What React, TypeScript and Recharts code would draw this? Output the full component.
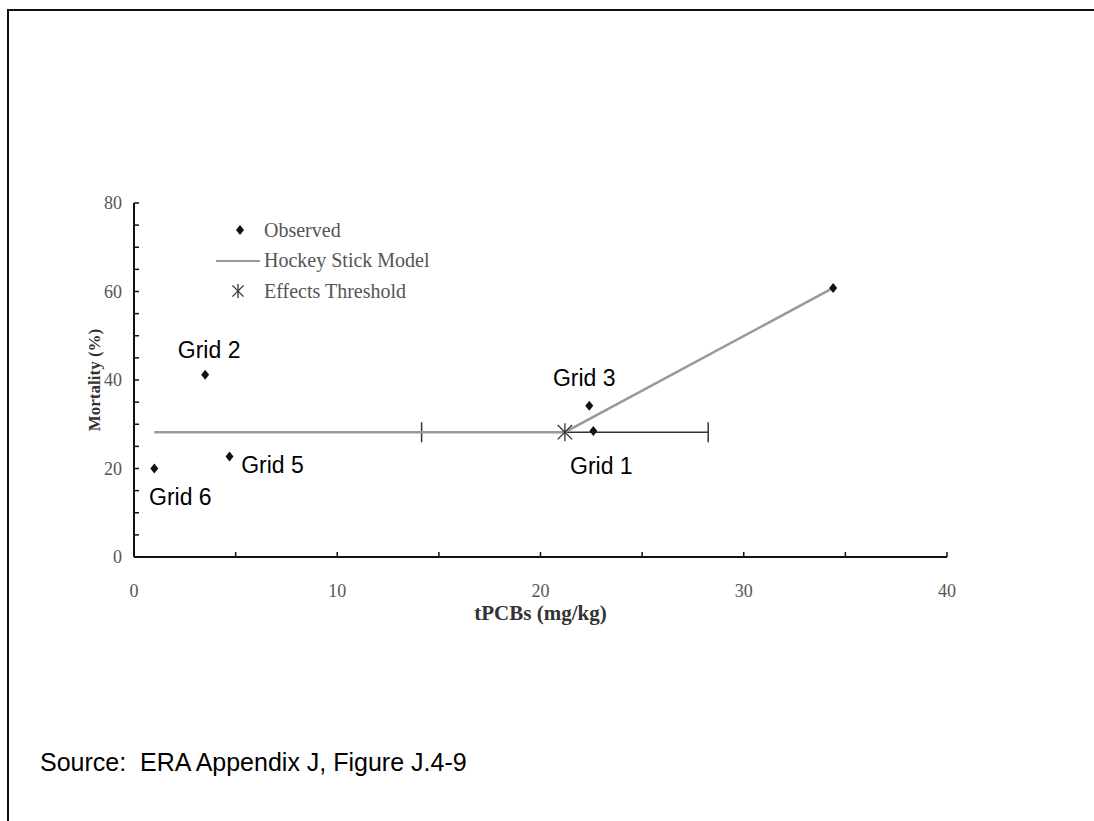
import React from 'react';
import { ScatterChart, Scatter, XAxis, YAxis, ErrorBar, Legend, Label } from 'recharts';

// observed grid data (tPCBs mg/kg vs mortality %)
const gridNames = ['Grid 6', 'Grid 2', 'Grid 5', 'Grid 3', 'Grid 1', ''];
const tpcbValues = [1.0, 3.5, 4.7, 22.4, 22.6, 34.4];
const mortalityValues = [20.0, 41.2, 22.7, 34.2, 28.5, 60.8];

// hockey stick model
const modelX = [1.0, 21.2, 34.4];
const modelY = [28.2, 28.2, 60.8];

// effects threshold with its interval
const thresholdX = [21.2];
const thresholdY = [28.2];
const thresholdCI = [7.05];

const xTicks = [0, 5, 10, 15, 20, 25, 30, 35, 40];
const yTicks = [0, 5, 10, 15, 20, 25, 30, 35, 40, 45, 50, 55, 60, 65, 70, 75, 80];
const xLabelEvery = 10;
const yLabelEvery = 20;

const legendNames = ['Observed', 'Hockey Stick Model', 'Effects Threshold'];

const observed = gridNames.map((name, i) => ({ name, x: tpcbValues[i], y: mortalityValues[i] }));
const model = modelX.map((x, i) => ({ x, y: modelY[i] }));
const threshold = thresholdX.map((x, i) => ({ x, y: thresholdY[i], ci: thresholdCI[i] }));

// where each grid label sits relative to its point
const labelOffsets: Record<string, { dx: number; dy: number }> = {
  'Grid 6': { dx: 26, dy: 28 },
  'Grid 2': { dx: 4, dy: -25 },
  'Grid 5': { dx: 43, dy: 8 },
  'Grid 3': { dx: -5, dy: -28 },
  'Grid 1': { dx: 8, dy: 35 },
};

const serif = '"Liberation Serif", "Times New Roman", serif';
const sans = '"Liberation Sans", Arial, sans-serif';
const tickColor = '#555';

const Diamond = ({ cx, cy, fill = '#111' }: any) => (
  <polygon points={`${cx},${cy - 5} ${cx + 4},${cy} ${cx},${cy + 5} ${cx - 4},${cy}`} fill={fill} />
);

const Asterisk = ({ cx, cy, r = 9, stroke = '#333' }: any) => (
  <g stroke={stroke} strokeWidth={1.3}>
    <line x1={cx} y1={cy - r} x2={cx} y2={cy + r} />
    <line x1={cx - r * 0.8} y1={cy - r * 0.8} x2={cx + r * 0.8} y2={cy + r * 0.8} />
    <line x1={cx - r * 0.8} y1={cy + r * 0.8} x2={cx + r * 0.8} y2={cy - r * 0.8} />
  </g>
);

const ObservedPoint = (props: any) => {
  const { cx, cy, payload } = props;
  const off = labelOffsets[payload.name];
  return (
    <g>
      <Diamond cx={cx} cy={cy} />
      {off && (
        <text
          x={cx + off.dx}
          y={cy + off.dy}
          textAnchor="middle"
          dominantBaseline="central"
          fontFamily={sans}
          fontSize={23}
          fill="#000"
        >
          {payload.name}
        </text>
      )}
    </g>
  );
};

const XTick = ({ x, y, payload }: any) =>
  payload.value % xLabelEvery === 0 ? (
    <text x={x} y={y} dy="0.71em" textAnchor="middle" fontFamily={serif} fontSize={18} fill={tickColor}>
      {payload.value}
    </text>
  ) : null;

const YTick = ({ x, y, payload }: any) =>
  payload.value % yLabelEvery === 0 ? (
    <text x={x} y={y} dy="0.35em" textAnchor="end" fontFamily={serif} fontSize={18} fill={tickColor}>
      {payload.value}
    </text>
  ) : null;

const YTitle = ({ viewBox }: any) => {
  const cx = viewBox.x + 10;
  const cy = viewBox.y + viewBox.height / 2;
  return (
    <text
      x={cx}
      y={cy}
      transform={`rotate(-90, ${cx}, ${cy})`}
      textAnchor="middle"
      dominantBaseline="central"
      fontFamily={serif}
      fontWeight="bold"
      fontSize={17}
      fill="#333"
    >
      Mortality (%)
    </text>
  );
};

const XTitle = ({ viewBox }: any) => (
  <text
    x={viewBox.x + viewBox.width / 2}
    y={viewBox.y + 56}
    textAnchor="middle"
    dominantBaseline="central"
    fontFamily={serif}
    fontWeight="bold"
    fontSize={21}
    fill="#333"
  >
    tPCBs (mg/kg)
  </text>
);

const LegendBox = () => (
  <div style={{ fontFamily: serif, fontSize: 20, color: '#555' }}>
    {legendNames.map((name, i) => (
      <div key={name} style={{ display: 'flex', alignItems: 'center', height: 30.5 }}>
        <svg width={48} height={30} style={{ display: 'block' }}>
          {i === 0 && <Diamond cx={24} cy={15} />}
          {i === 1 && <line x1={0} y1={15} x2={44} y2={15} stroke="#999" strokeWidth={2} />}
          {i === 2 && <Asterisk cx={22} cy={15} r={7} />}
        </svg>
        <span>{name}</span>
      </div>
    ))}
  </div>
);

export default function App() {
  return (
    <div style={{ position: 'absolute', left: 0, top: 0, width: 1094, height: 821, overflow: 'hidden', background: '#fff' }}>
      <div
        style={{
          position: 'absolute',
          left: 7,
          top: 9,
          width: 1100,
          height: 830,
          borderTop: '2px solid #111',
          borderLeft: '2px solid #111',
        }}
      />
      <ScatterChart
        width={1094}
        height={821}
        margin={{ top: 203, right: 147, bottom: 194, left: 84 }}
        style={{ position: 'absolute', left: 0, top: 0 }}
      >
        <XAxis
          type="number"
          dataKey="x"
          domain={[0, 40]}
          ticks={xTicks}
          interval={0}
          height={70}
          tickSize={-5}
          tickMargin={32}
          axisLine={{ stroke: '#111', strokeWidth: 2 }}
          tickLine={{ stroke: '#111', strokeWidth: 1.5 }}
          tick={XTick}
        >
          <Label content={XTitle} />
        </XAxis>
        <YAxis
          type="number"
          dataKey="y"
          domain={[0, 80]}
          ticks={yTicks}
          interval={0}
          width={50}
          tickSize={-5}
          tickMargin={17}
          axisLine={{ stroke: '#111', strokeWidth: 2 }}
          tickLine={{ stroke: '#111', strokeWidth: 1.5 }}
          tick={YTick}
        >
          <Label content={YTitle} />
        </YAxis>
        <Legend
          layout="vertical"
          align="center"
          verticalAlign="middle"
          content={LegendBox}
          wrapperStyle={{ left: 216, top: 215, width: 260, height: 95 }}
        />
        <Scatter
          name="Hockey Stick Model"
          data={model}
          line={{ stroke: '#9a9a9a', strokeWidth: 2.5 }}
          lineType="joint"
          shape={() => <g />}
          isAnimationActive={false}
        />
        <Scatter
          name="Effects Threshold"
          data={threshold}
          shape={(p: any) => <Asterisk cx={p.cx} cy={p.cy} />}
          isAnimationActive={false}
        >
          <ErrorBar dataKey="ci" direction="x" width={10} stroke="#333" strokeWidth={1.5} isAnimationActive={false} />
        </Scatter>
        <Scatter name="Observed" data={observed} shape={ObservedPoint} isAnimationActive={false} />
      </ScatterChart>
      <div
        style={{
          position: 'absolute',
          left: 40,
          top: 750,
          fontFamily: sans,
          fontSize: 25,
          lineHeight: '25px',
          color: '#000',
          whiteSpace: 'pre',
        }}
      >
        {'Source:  ERA Appendix J, Figure J.4-9'}
      </div>
    </div>
  );
}
